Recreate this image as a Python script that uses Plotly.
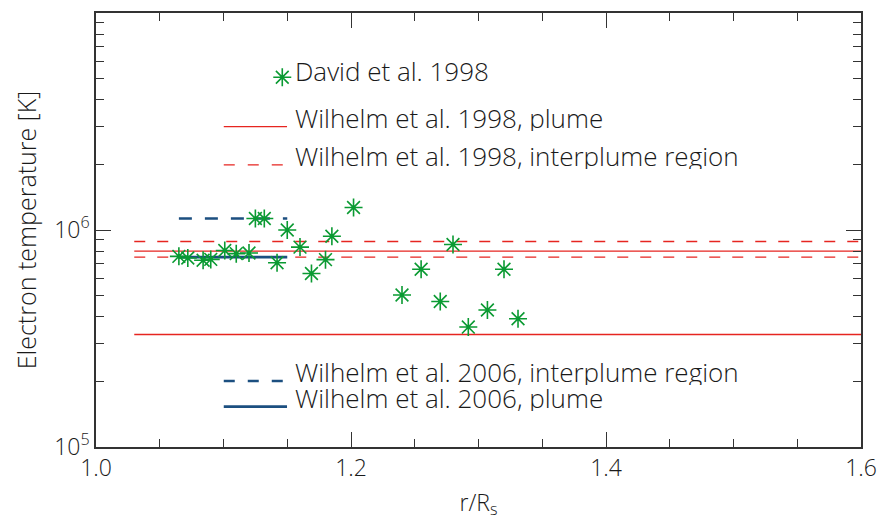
import plotly.graph_objects as go

# Electron temperature measurements (David et al. 1998)
david_r = [1.065, 1.072, 1.084, 1.090, 1.101, 1.110, 1.120, 1.125, 1.132, 1.142,
           1.150, 1.160, 1.169, 1.180, 1.185, 1.202, 1.240, 1.255, 1.270, 1.280,
           1.292, 1.307, 1.320, 1.331]
david_T = [7.56e5, 7.43e5, 7.25e5, 7.32e5, 8.05e5, 7.78e5, 7.83e5, 1.13e6, 1.13e6, 7.07e5,
           1.00e6, 8.34e5, 6.30e5, 7.30e5, 9.36e5, 1.27e6, 5.02e5, 6.59e5, 4.68e5, 8.57e5,
           3.57e5, 4.28e5, 6.59e5, 3.90e5]

# Wilhelm et al. 1998: bounds for plume and interplume temperatures
w98_r = [1.03, 1.6]
w98_plume = [3.3e5, 8.0e5]
w98_inter = [7.5e5, 8.85e5]

# Wilhelm et al. 2006
w06_r = [1.065, 1.15]
w06_plume = 7.5e5
w06_inter = 1.13e6

x_ticks = [1.0, 1.2, 1.4, 1.6]
x_ticktext = ["1.0", "1.2", "1.4", "1.6"]
y_ticks = [1e5, 1e6, 1e7]
y_ticktext = ["10<sup>5</sup>", "10<sup>6</sup>", "10<sup>7</sup>"]
y_minor = [m * 10 ** e for e in (5, 6) for m in range(2, 10)]

RED = "#e62520"
BLUE = "#1c4f80"
GREEN = "#0a9a32"
FONT = "Open Sans, Roboto, sans-serif"
TXT = "#1a1a1a"


def tfont(size):
    return dict(family=FONT, size=size, color=TXT, weight=300)


fig = go.Figure()

for T in w98_plume:
    fig.add_trace(go.Scatter(x=w98_r, y=[T, T], mode="lines",
                             line=dict(color=RED, width=1.3), hoverinfo="skip"))
for T in w98_inter:
    fig.add_trace(go.Scatter(x=w98_r, y=[T, T], mode="lines",
                             line=dict(color=RED, width=1.3, dash="11px,12px"), hoverinfo="skip"))

fig.add_trace(go.Scatter(x=w06_r, y=[w06_inter, w06_inter], mode="lines",
                         line=dict(color=BLUE, width=2.6, dash="13px,13px")))
fig.add_trace(go.Scatter(x=w06_r, y=[w06_plume, w06_plume], mode="lines",
                         line=dict(color=BLUE, width=2.6)))

fig.add_trace(go.Scatter(x=david_r, y=david_T, mode="markers",
                         marker=dict(symbol="asterisk-open", size=15, color=GREEN,
                                     line=dict(color=GREEN, width=1.6))))

# Legend block, placed in paper coordinates on an overlay axis
legend_labels = ["David et al. 1998",
                 "Wilhelm et al. 1998, plume",
                 "Wilhelm et al. 1998, interplume region",
                 "Wilhelm et al. 2006, interplume region",
                 "Wilhelm et al. 2006, plume"]
legend_y = [0.846, 0.738, 0.650, 0.152, 0.093]
legend_kind = ["marker", "solid", "dash", "dash", "solid"]
legend_color = [GREEN, RED, RED, BLUE, BLUE]
legend_width = [0, 1.3, 1.3, 2.6, 2.6]
key_x0, key_x1, text_x = 0.167, 0.2497, 0.2577

for lab, yy, kind, col, w in zip(legend_labels, legend_y, legend_kind, legend_color, legend_width):
    if kind == "marker":
        fig.add_trace(go.Scatter(x=[0.2435], y=[yy + 0.006], mode="markers", xaxis="x2", yaxis="y2",
                                 marker=dict(symbol="asterisk-open", size=15, color=col,
                                             line=dict(color=col, width=1.6))))
    else:
        fig.add_trace(go.Scatter(x=[key_x0, key_x1], y=[yy, yy], mode="lines", xaxis="x2", yaxis="y2",
                                 line=dict(color=col, width=w,
                                           dash="solid" if kind == "solid" else "11px,13px")))
    fig.add_annotation(x=text_x, y=yy, xref="x2", yref="y2", text=lab, showarrow=False,
                       xanchor="left", yanchor="bottom", yshift=-6, height=27, valign="middle",
                       font=tfont(26))

axis_common = dict(showline=True, linecolor="#333333", linewidth=1.6, mirror="ticks",
                   ticks="inside", ticklen=15, tickwidth=1.3, tickcolor="#333333",
                   showgrid=False, zeroline=False,
                   tickfont=tfont(23))

fig.update_layout(
    width=888, height=523,
    margin=dict(l=96, r=19, t=11, b=72),
    paper_bgcolor="white", plot_bgcolor="white",
    showlegend=False,
    xaxis=dict(range=[1.0, 1.6], tickvals=x_ticks, ticktext=x_ticktext,
               minor=dict(dtick=0.05, ticks="inside", ticklen=8, tickwidth=1.1, tickcolor="#333333"),
               title=dict(text="r/R<sub>s</sub>", font=tfont(23), standoff=12),
               **axis_common),
    yaxis=dict(type="log", range=[5, 7], tickvals=y_ticks, ticktext=y_ticktext,
               minor=dict(tickvals=y_minor, ticks="inside", ticklen=8, tickwidth=1.1, tickcolor="#333333"),
               title=dict(text="Electron temperature [K]", font=tfont(25), standoff=10),
               **axis_common),
    xaxis2=dict(range=[0, 1], overlaying="x", visible=False),
    yaxis2=dict(range=[0, 1], overlaying="y", visible=False),
)

fig.write_html("out.html")
